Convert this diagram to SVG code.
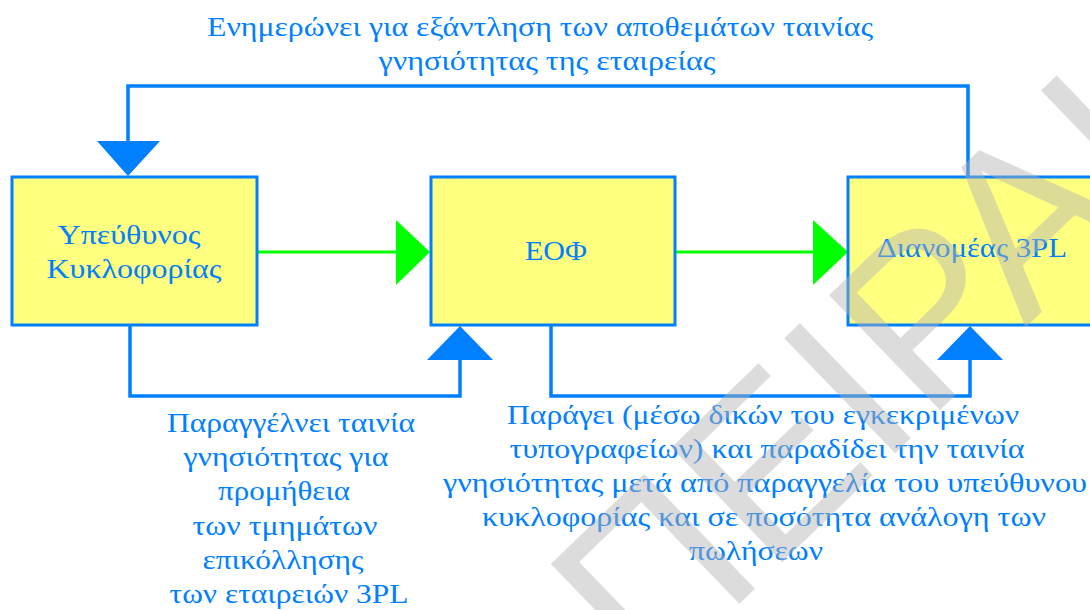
<svg xmlns="http://www.w3.org/2000/svg" width="1090" height="610" viewBox="0 0 1090 610">
<style>
.box{fill:#ffff80;stroke:#0080ff;stroke-width:3}
.conn{fill:none;stroke:#0080ff;stroke-width:3.5}
.gl{fill:none;stroke:#00ff00;stroke-width:3}
.ah{fill:#0080ff}
.ahg{fill:#00ff00}
.t{font-family:"Liberation Serif","Times New Roman",serif;font-size:28px;fill:#0080ff;text-anchor:middle}
.wm{font-family:"Liberation Sans",Arial,sans-serif;font-size:232px;fill:#b1b1b1;fill-opacity:0.45}
</style>
<rect width="1090" height="610" fill="#ffffff"/>
<g id="connectors">
<polyline class="conn" points="968,176 968,86 128,86 128,142"/>
<polygon class="ah" points="97,141 160,141 128,176"/>
<line class="gl" x1="257" y1="252" x2="397" y2="252"/>
<polygon class="ahg" points="396,220 396,285 430,252"/>
<line class="gl" x1="676" y1="252" x2="814" y2="252"/>
<polygon class="ahg" points="813,220 813,285 848,252"/>
<polyline class="conn" points="130,325 130,396 460,396 460,359"/>
<polygon class="ah" points="427,360 493,360 460,326"/>
<polyline class="conn" points="551,325 551,396 970,396 970,359"/>
<polygon class="ah" points="937,360 1003,360 970,326"/>
</g>
<g id="node-ypeuthynos">
<rect class="box" x="12" y="177" width="245" height="148"/>
<text class="t" x="129" y="244" textLength="143" lengthAdjust="spacingAndGlyphs">Υπεύθυνος</text>
<text class="t" x="134" y="278" textLength="175" lengthAdjust="spacingAndGlyphs">Κυκλοφορίας</text>
</g>
<g id="node-eof">
<rect class="box" x="431" y="177" width="244" height="148"/>
<text class="t" x="556" y="260" textLength="62" lengthAdjust="spacingAndGlyphs">ΕΟΦ</text>
</g>
<g id="node-3pl">
<rect class="box" x="848" y="177" width="246" height="148"/>
<text class="t" x="972" y="257" textLength="190" lengthAdjust="spacingAndGlyphs">Διανομέας 3PL</text>
</g>
<g id="label-top">
<text class="t" x="540" y="36" textLength="666" lengthAdjust="spacingAndGlyphs">Ενημερώνει για εξάντληση των αποθεμάτων ταινίας</text>
<text class="t" x="547" y="70" textLength="337" lengthAdjust="spacingAndGlyphs">γνησιότητας της εταιρείας</text>
</g>
<g id="label-left">
<text class="t" x="291" y="432" textLength="248" lengthAdjust="spacingAndGlyphs">Παραγγέλνει ταινία</text>
<text class="t" x="286" y="466" textLength="205" lengthAdjust="spacingAndGlyphs">γνησιότητας για</text>
<text class="t" x="284" y="500" textLength="132" lengthAdjust="spacingAndGlyphs">προμήθεια</text>
<text class="t" x="285" y="535" textLength="185" lengthAdjust="spacingAndGlyphs">των τμημάτων</text>
<text class="t" x="283" y="569" textLength="161" lengthAdjust="spacingAndGlyphs">επικόλλησης</text>
<text class="t" x="289" y="603" textLength="239" lengthAdjust="spacingAndGlyphs">των εταιρειών 3PL</text>
</g>
<g id="label-right">
<text class="t" x="763" y="424" textLength="512" lengthAdjust="spacingAndGlyphs">Παράγει (μέσω δικών του εγκεκριμένων</text>
<text class="t" x="767" y="458" textLength="515" lengthAdjust="spacingAndGlyphs">τυπογραφείων) και παραδίδει την ταινία</text>
<text class="t" x="765" y="492" textLength="644" lengthAdjust="spacingAndGlyphs">γνησιότητας μετά από παραγγελία του υπεύθυνου</text>
<text class="t" x="764" y="526" textLength="564" lengthAdjust="spacingAndGlyphs">κυκλοφορίας και σε ποσότητα ανάλογη των</text>
<text class="t" x="756" y="560" textLength="134" lengthAdjust="spacingAndGlyphs">πωλήσεων</text>
</g>
<text class="wm" transform="translate(648,692) rotate(-44)">ΠΕΙΡΑΙΑ</text>
</svg>
